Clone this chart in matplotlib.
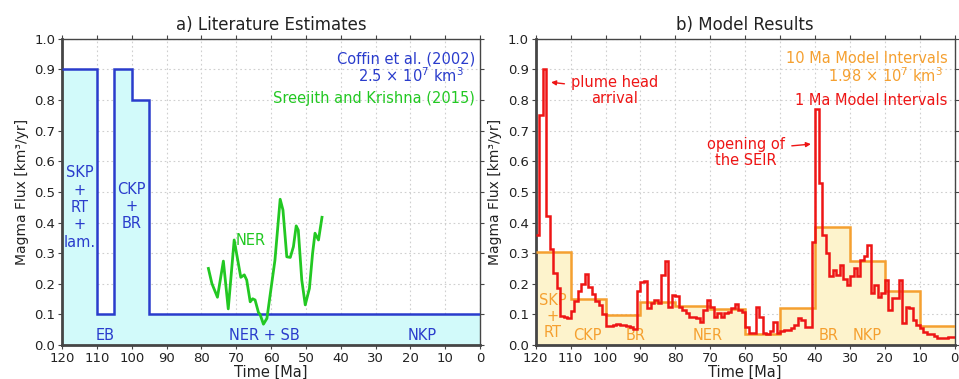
import numpy as np
import matplotlib
matplotlib.use("Agg")
import matplotlib.pyplot as plt

# ---------------- data ----------------
# Literature estimates (Coffin et al., 2002): step function, Ma edges (old -> young)
coffin_edges = [120, 110, 105, 100, 95, 0]
coffin_flux = [0.9, 0.1, 0.9, 0.8, 0.1]

# Sreejith and Krishna (2015)
sk_time = [78.0, 77.0, 75.4, 73.7, 72.3, 70.6, 68.7, 67.7, 67.0, 66.0, 65.3, 64.6,
           63.6, 63.2, 62.2, 61.2, 58.9, 57.4, 56.6, 55.5, 54.5, 53.6, 52.8, 52.2,
           51.2, 50.2, 49.0, 48.1, 47.4, 46.4, 45.4]
sk_flux = [0.250, 0.201, 0.156, 0.274, 0.118, 0.343, 0.221, 0.229, 0.212, 0.141, 0.151, 0.147,
           0.105, 0.101, 0.068, 0.087, 0.277, 0.476, 0.441, 0.288, 0.286, 0.321, 0.389, 0.375,
           0.212, 0.131, 0.185, 0.299, 0.365, 0.343, 0.417]

# Model: 10 Ma intervals (120-110, 110-100, ..., 10-0)
model10_edges = list(range(120, -1, -10))
model10_flux = [0.304, 0.149, 0.097, 0.140, 0.128, 0.117, 0.035, 0.120, 0.386, 0.274, 0.176, 0.062]

# Model: 1 Ma intervals (120-119, 119-118, ..., 1-0)
model1_edges = list(range(120, -1, -1))
model1_flux = [
    0.36, 0.75, 0.90, 0.42, 0.315, 0.235, 0.185, 0.095, 0.090, 0.088,   # 120-110
    0.110, 0.145, 0.175, 0.200, 0.233, 0.190, 0.165, 0.145, 0.130, 0.100,  # 110-100
    0.062, 0.063, 0.066, 0.068, 0.066, 0.064, 0.062, 0.058, 0.052, 0.175,  # 100-90
    0.207, 0.210, 0.120, 0.136, 0.147, 0.136, 0.228, 0.275, 0.125, 0.163,  # 90-80
    0.160, 0.125, 0.114, 0.103, 0.092, 0.092, 0.087, 0.076, 0.114, 0.147,  # 80-70
    0.125, 0.092, 0.103, 0.092, 0.103, 0.109, 0.120, 0.135, 0.114, 0.109,  # 70-60
    0.060, 0.040, 0.038, 0.125, 0.090, 0.040, 0.035, 0.045, 0.075, 0.040,  # 60-50
    0.045, 0.050, 0.048, 0.055, 0.065, 0.087, 0.082, 0.060, 0.060, 0.335,  # 50-40
    0.770, 0.530, 0.360, 0.300, 0.225, 0.245, 0.230, 0.260, 0.215, 0.195,  # 40-30
    0.225, 0.250, 0.225, 0.277, 0.290, 0.326, 0.170, 0.196, 0.158, 0.170,  # 30-20
    0.212, 0.114, 0.152, 0.155, 0.212, 0.071, 0.125, 0.120, 0.082, 0.065,  # 20-10
    0.054, 0.044, 0.036, 0.036, 0.030, 0.022, 0.022, 0.022, 0.025, 0.027,  # 10-0
]

x_ticks = list(range(120, -1, -10))
y_ticks = [round(0.1 * i, 1) for i in range(11)]

# ---------------- style ----------------
plt.rcParams['font.family'] = ['DejaVu Sans']
BLUE = '#2a3ccc'
CYAN_FILL = '#d2fafa'
GREEN = '#22c822'
ORANGE = '#f5a030'
YELLOW_FILL = '#fdf3cc'
RED = '#ee1515'
SPINE = '#454545'

fig = plt.figure(figsize=(9.59, 3.79), dpi=100)
ax1 = fig.add_axes([0.0647, 0.0897, 0.436, 0.808])
ax2 = fig.add_axes([0.5586, 0.0897, 0.437, 0.808])


def style_axes(ax, title):
    ax.set_xlim(120, 0)
    ax.set_ylim(0, 1.0)
    ax.set_xticks(x_ticks)
    ax.set_xticklabels([str(t) for t in x_ticks])
    ax.set_yticks(y_ticks)
    ax.set_yticklabels([f"{v:.1f}" for v in y_ticks])
    ax.grid(True, color='#cfcfcf', linestyle=(0, (1.5, 2.5)), linewidth=0.8)
    ax.set_axisbelow(True)
    for s in ['left', 'bottom']:
        ax.spines[s].set_linewidth(2.0)
        ax.spines[s].set_color(SPINE)
    for s in ['top', 'right']:
        ax.spines[s].set_linewidth(1.0)
        ax.spines[s].set_color(SPINE)
    ax.tick_params(axis='both', which='both', direction='out', length=3, width=0.8,
                   colors=SPINE, labelcolor='#222222', labelsize=9.5,
                   top=True, right=True, pad=2)
    ax.set_xlabel('Time [Ma]', fontsize=10.5, labelpad=0, color='#222222')
    ax.set_ylabel('Magma Flux [km³/yr]', fontsize=10, labelpad=4, color='#222222')
    ax.set_title(title, fontsize=12, pad=6, color='#222222')


# ---------------- panel a ----------------
style_axes(ax1, 'a) Literature Estimates')
ce = coffin_edges[::-1]
cf = coffin_flux[::-1]
ax1.stairs(cf, ce, fill=True, color=CYAN_FILL, baseline=0, zorder=1)
ax1.stairs(cf, ce, color=BLUE, linewidth=1.8, baseline=None, zorder=3)
ax1.plot(sk_time, sk_flux, color=GREEN, linewidth=2.0, zorder=4)

ax1.text(0.988, 0.935, 'Coffin et al. (2002)', transform=ax1.transAxes, ha='right',
         va='center', color=BLUE, fontsize=10.5)
ax1.text(0.835, 0.878, r'2.5 $\times$ 10$^7$ km$^3$', transform=ax1.transAxes, ha='center',
         va='center', color=BLUE, fontsize=10.5)
ax1.text(0.988, 0.805, 'Sreejith and Krishna (2015)', transform=ax1.transAxes, ha='right',
         va='center', color=GREEN, fontsize=10.5)

ax1.text(115, 0.449, 'SKP\n+\nRT\n+\nlam.', ha='center', va='center', color=BLUE,
         fontsize=10.5, linespacing=1.2)
ax1.text(100, 0.452, 'CKP\n+\nBR', ha='center', va='center', color=BLUE,
         fontsize=10.5, linespacing=1.2)
ax1.text(107.5, 0.03, 'EB', ha='center', va='center', color=BLUE, fontsize=10.5)
ax1.text(62, 0.03, 'NER + SB', ha='center', va='center', color=BLUE, fontsize=10.5)
ax1.text(16.5, 0.03, 'NKP', ha='center', va='center', color=BLUE, fontsize=10.5)
ax1.text(66, 0.34, 'NER', ha='center', va='center', color=GREEN, fontsize=10.5)

# ---------------- panel b ----------------
style_axes(ax2, 'b) Model Results')
me = model10_edges[::-1]
mf = model10_flux[::-1]
ax2.stairs(mf, me, fill=True, color=YELLOW_FILL, baseline=0, zorder=1)
ax2.stairs(mf, me, color=ORANGE, linewidth=1.8, baseline=None, zorder=3)
m1e = model1_edges[::-1]
m1f = model1_flux[::-1]
ax2.stairs(m1f, m1e, color=RED, linewidth=1.8, baseline=None, zorder=4)

ax2.text(0.983, 0.935, '10 Ma Model Intervals', transform=ax2.transAxes, ha='right',
         va='center', color=ORANGE, fontsize=10.5)
ax2.text(0.835, 0.878, r'1.98 $\times$ 10$^7$ km$^3$', transform=ax2.transAxes, ha='center',
         va='center', color=ORANGE, fontsize=10.5)
ax2.text(0.983, 0.80, '1 Ma Model Intervals', transform=ax2.transAxes, ha='right',
         va='center', color=RED, fontsize=10.5)

ax2.annotate('plume head\narrival', xy=(115.6, 0.858), xytext=(97.3, 0.83),
             ha='center', va='center', color=RED, fontsize=10.5, linespacing=1.1,
             arrowprops=dict(arrowstyle='-|>', color=RED, lw=1.0,
                             mutation_scale=7, shrinkA=3, shrinkB=0,
                             relpos=(0.0, 0.7)))
ax2.annotate('opening of\nthe SEIR', xy=(41.2, 0.656), xytext=(59.8, 0.628),
             ha='center', va='center', color=RED, fontsize=10.5, linespacing=1.1,
             arrowprops=dict(arrowstyle='-|>', color=RED, lw=1.0,
                             mutation_scale=7, shrinkA=3, shrinkB=0,
                             relpos=(1.0, 0.7)))

ax2.text(115.1, 0.094, 'SKP\n+\nRT', ha='center', va='center', color=ORANGE,
         fontsize=10.5, linespacing=1.1)
ax2.text(105.3, 0.03, 'CKP', ha='center', va='center', color=ORANGE, fontsize=10.5)
ax2.text(91.5, 0.03, 'BR', ha='center', va='center', color=ORANGE, fontsize=10.5)
ax2.text(70.7, 0.03, 'NER', ha='center', va='center', color=ORANGE, fontsize=10.5)
ax2.text(36.1, 0.03, 'BR', ha='center', va='center', color=ORANGE, fontsize=10.5)
ax2.text(25.2, 0.03, 'NKP', ha='center', va='center', color=ORANGE, fontsize=10.5)

fig.savefig('out.png', dpi=100)
